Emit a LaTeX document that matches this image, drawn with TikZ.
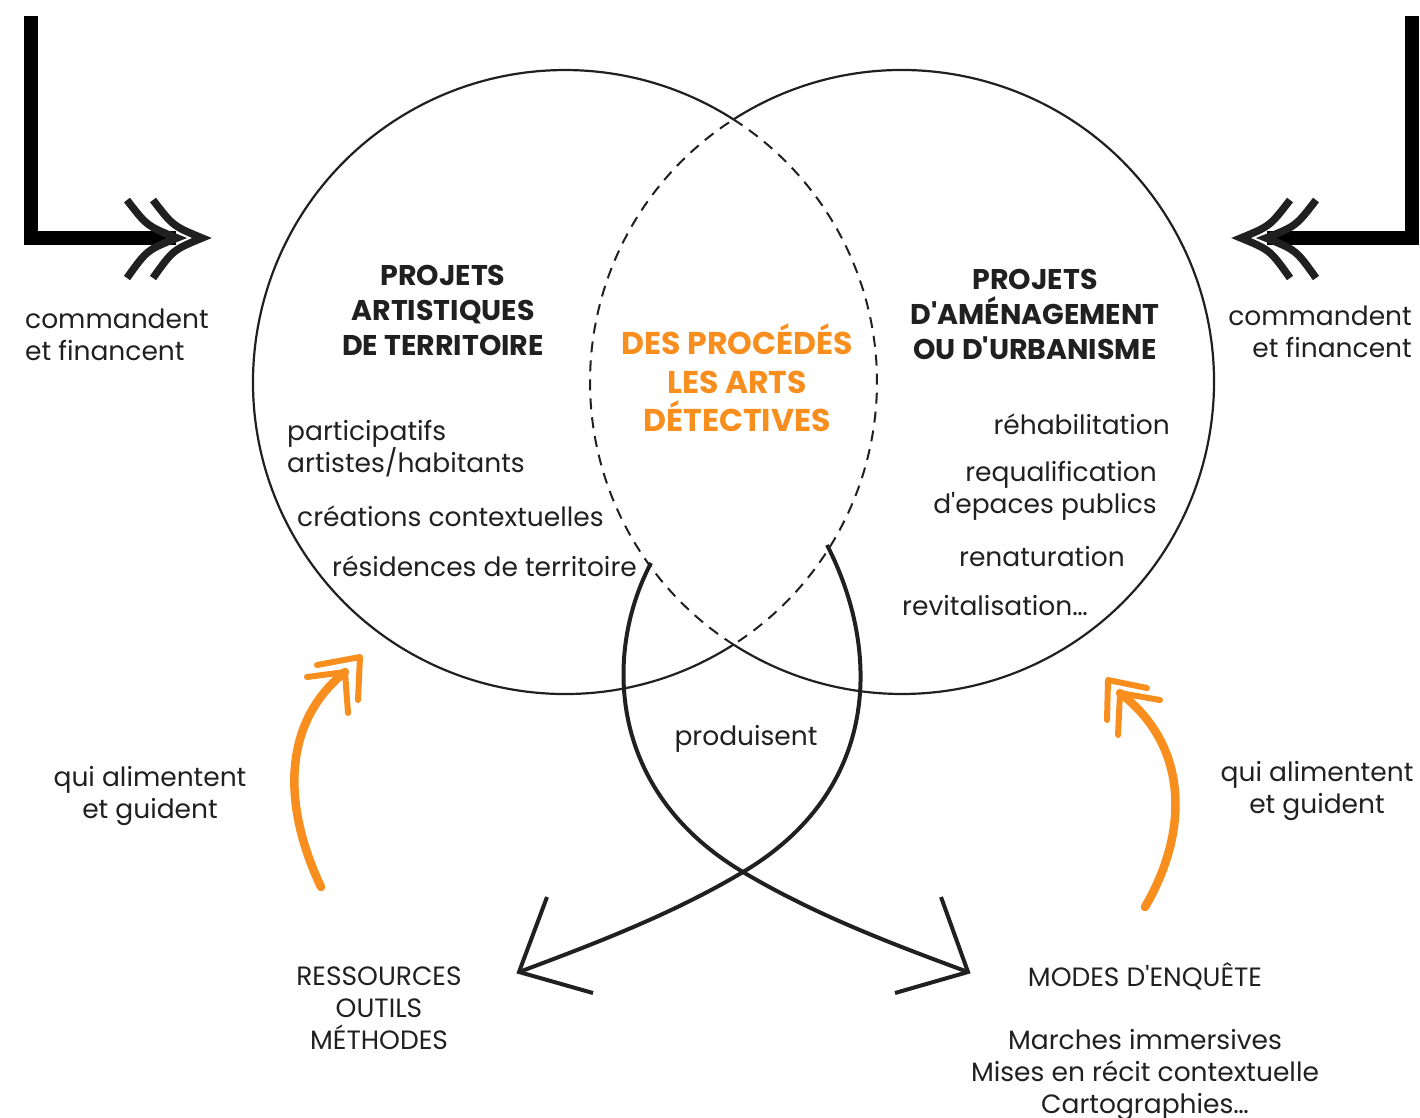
\documentclass[tikz,border=0pt]{standalone}
\usepackage{fontspec}
\setmainfont{Poppins}
\definecolor{orangeart}{RGB}{247,142,30}
\definecolor{encre}{RGB}{32,32,32}
\newcommand{\apos}{\textquotesingle}

\begin{document}
\begin{tikzpicture}
		% styles of the drawing (1 unit = 1 pixel, y pointing down)
		[x=1pt, y=-1pt,
		cercle/.style={encre, line width=2.2pt},
		pointilles/.style={encre, line width=2pt, dash pattern=on 11pt off 8pt},
		ruban/.style={encre, line width=4pt},
		barre/.style={black, line width=14pt, miter limit=10},
		chevron/.style={encre, line width=7.5pt, line join=miter, miter limit=10},
		fleche/.style={orangeart, line width=8.5pt, line cap=round},
		pointe/.style={orangeart, line width=6pt, line cap=round, line join=round},
		texte/.style={inner sep=0pt, text=encre, font=\fontsize{26.5}{32}\selectfont},
		titre/.style={texte, align=center, font=\fontsize{28.5}{35}\selectfont\bfseries},
		detective/.style={titre, text=orangeart, font=\fontsize{31.5}{38.5}\selectfont\bfseries}]
	
		\useasboundingbox (0,0) rectangle (1420,1117);
	
		% The two circles, dashed where they overlap
		\coordinate (gauche) at (565,382);
		\coordinate (droite) at (902,382);
		\def\R{312}
		\def\A{57.36}
		\draw[cercle] (gauche) ++(\A:\R) arc[start angle=\A, end angle=360-\A, radius=\R];
		\draw[pointilles] (gauche) ++(-\A:\R) arc[start angle=-\A, end angle=\A, radius=\R];
		\draw[cercle] (droite) ++(180+\A:\R) arc[start angle=-180+\A, end angle=180-\A, radius=\R];
		\draw[pointilles] (droite) ++(180-\A:\R) arc[start angle=180-\A, end angle=180+\A, radius=\R];
		
		% First the corner arrow on the left
		\begin{scope}
			\coordinate (haut) at (31,16);
			\coordinate (coin) at (31,238);
			\coordinate (bout) at (176,238);
			\draw[barre] (haut) -- (coin) -- (bout);
			\draw[chevron] (127,200) .. controls (147,226) .. (177,238) .. controls (147,250) .. (127,278);
			\draw[chevron] (153,200) .. controls (173,226) .. (202,238) .. controls (173,250) .. (153,278);
		\end{scope}
		
		% The same arrow, mirrored on the right
		\begin{scope}[xshift=1443pt, xscale=-1]
			\coordinate (haut) at (31,16);
			\coordinate (coin) at (31,238);
			\coordinate (bout) at (176,238);
			\draw[barre] (haut) -- (coin) -- (bout);
			\draw[chevron] (127,200) .. controls (147,226) .. (177,238) .. controls (147,250) .. (127,278);
			\draw[chevron] (153,200) .. controls (173,226) .. (202,238) .. controls (173,250) .. (153,278);
		\end{scope}
		
		% Two crossing strokes that leave the lens
		\coordinate (departG) at (651,563);
		\coordinate (departD) at (827,545);
		\coordinate (croix) at (743,872);
		\coordinate (pointeG) at (519,972);
		\coordinate (pointeD) at (968,972);
		\draw[ruban] (departG) .. controls (605,650) and (605,790) .. (croix)
			.. controls (815,915) and (895,945) .. (pointeD);
		\draw[ruban] (departD) .. controls (881,650) and (881,790) .. (croix)
			.. controls (671,915) and (591,945) .. (pointeG);
		% open heads at both ends
		\draw[ruban, line join=miter] (547,897) -- (pointeG) -- (593,993);
		\draw[ruban, line join=miter] (941,897) -- (pointeD) -- (895,993);
		
		% Orange arrows going back up
		\coordinate (piedG) at (321,887);
		\coordinate (teteG) at (345,672);
		\draw[fleche] (piedG) .. controls (280,800) and (285,720) .. (teteG);
		\draw[pointe] (307,677) -- (teteG) -- (348,713);
		\draw[pointe] (317,665) -- (360,657) -- (358,700);
		
		\coordinate (piedD) at (1145,907);
		\coordinate (teteD) at (1120,693);
		\draw[fleche] (piedD) .. controls (1190,830) and (1188,745) .. (teteD);
		\draw[pointe] (1160,700) -- (teteD) -- (1118,735);
		\draw[pointe] (1147,688) -- (1108,680) -- (1107,720);
		
		% Titles
		\node[titre] (artistiques) at (443,310) {PROJETS\\ARTISTIQUES\\DE TERRITOIRE};
		\node[titre] (amenagement) at (1035,314) {PROJETS\\D\apos AMÉNAGEMENT\\OU D\apos URBANISME};
		\node[detective] (procedes) at (737,378) {DES PROCÉDÉS\\LES ARTS\\DÉTECTIVES};
		
		% Words inside the circles
		\node[texte, anchor=west, align=left] (participatifs) at (287,449) {participatifs\\artistes/habitants};
		\node[texte, anchor=west] (creations) at (297,516) {créations contextuelles};
		\node[texte, anchor=west] (residences) at (332,566) {résidences de territoire};
		\node[texte, anchor=east] (rehabilitation) at (1170,424) {réhabilitation};
		\node[texte, anchor=east, align=right] (requalification) at (1157,491) {requalification\\d\apos epaces publics};
		\node[texte, anchor=east] (renaturation) at (1125,557) {renaturation};
		\node[texte, anchor=west] (revitalisation) at (902,606) {revitalisation…};
		\node[texte] (produisent) at (746,739) {produisent};
		
		% Words outside
		\node[texte, anchor=west, align=left] (commandeG) at (25,335) {commandent\\et financent};
		\node[texte, anchor=east, align=right] (commandeD) at (1412,332) {commandent\\et financent};
		\node[texte, align=center] (alimenteG) at (150,796) {qui alimentent\\et guident};
		\node[texte, align=center] (alimenteD) at (1317,791) {qui alimentent\\et guident};
		\node[texte, align=center] (ressources) at (379,1008) {RESSOURCES\\OUTILS\\MÉTHODES};
		\node[texte] (modes) at (1145,976) {MODES D\apos ENQUÊTE};
		\node[texte, align=center] (marches) at (1145,1075) {Marches immersives\\Mises en récit contextuelle\\Cartographies…};
	\end{tikzpicture}
\end{document}
